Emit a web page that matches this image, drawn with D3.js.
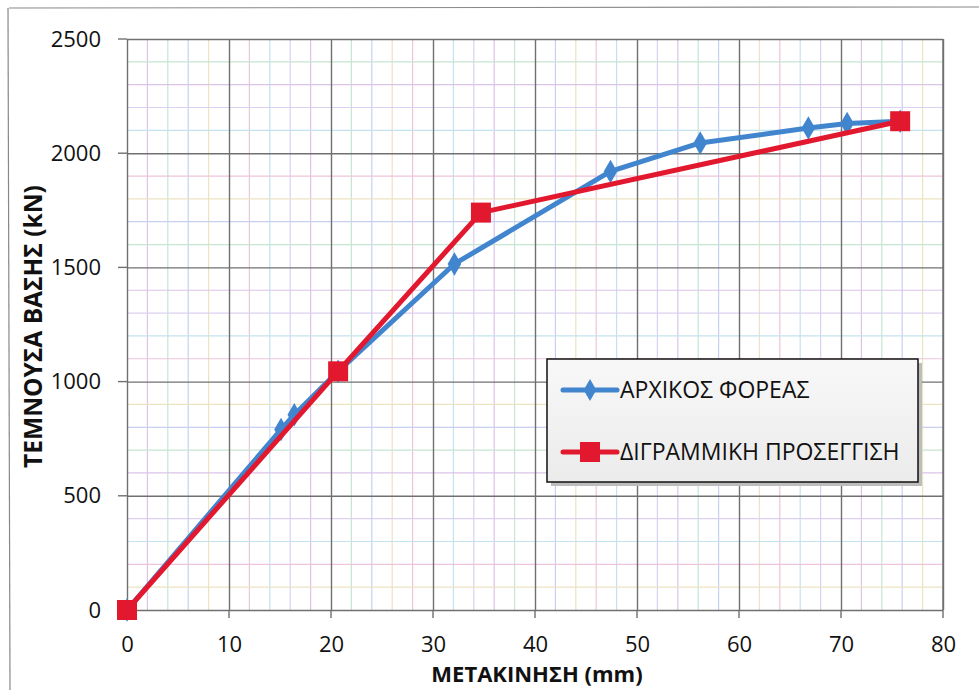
<!DOCTYPE html>
<html lang="el">
<head>
<meta charset="UTF-8">
<title>Τέμνουσα βάσης - Μετακίνηση</title>
<script src="https://d3js.org/d3.v7.min.js"></script>
<style>
  body { margin: 0; background: #fff; }
  svg text { font-family: "Open Sans", Lato, sans-serif; fill: #111; }
  .tick-label { font-size: 22px; }
  .axis-title { font-size: 22px; font-weight: bold; }
  .y-title { font-size: 24.5px; }
  .legend-label { font-size: 23px; }
</style>
</head>
<body>
<svg id="chart" width="979" height="690"></svg>
<script>
// data
const xTicks = [0, 10, 20, 30, 40, 50, 60, 70, 80];
const yTicks = [0, 500, 1000, 1500, 2000, 2500];
const seriesNames = ["ΑΡΧΙΚΟΣ ΦΟΡΕΑΣ", "ΔΙΓΡΑΜΜΙΚΗ ΠΡΟΣΕΓΓΙΣΗ"];
const originalDisp = [0, 15.1, 16.4, 20.7, 32.1, 47.4, 56.2, 66.8, 70.6, 75.8];
const originalShear = [0, 790, 855, 1045, 1515, 1920, 2045, 2110, 2130, 2140];
const bilinearDisp = [0, 20.7, 34.7, 75.8];
const bilinearShear = [0, 1045, 1740, 2140];

const blue = "#4285cf", red = "#e2182f";
const minorColors = ["#dcc3e8", "#c6e6d2", "#c8d0f2", "#ece3c2", "#eec4da", "#c4e2ee", "#dbd0f2"];

const plot = {left: 127, right: 943, top: 39, bottom: 610};
const svg = d3.select("#chart");

const x = d3.scaleLinear().domain([0, 80]).range([plot.left, plot.right]);
const y = d3.scaleLinear().domain([0, 2500]).range([plot.bottom, plot.top]);

// outer frame (scan border)
svg.append("line").attr("x1", 9).attr("y1", 8).attr("x2", 979).attr("y2", 7)
  .attr("stroke", "#888").attr("stroke-width", 1.2);
svg.append("line").attr("x1", 8).attr("y1", 8).attr("x2", 10).attr("y2", 690)
  .attr("stroke", "#888").attr("stroke-width", 1.2);

// minor grid
const grid = svg.append("g");
const minorX = d3.range(0, 80.01, 2).filter(v => v % 10 !== 0);
const minorY = d3.range(0, 2500.1, 100).filter(v => v % 500 !== 0);
grid.selectAll(".mx").data(minorX).join("line")
  .attr("x1", d => x(d)).attr("x2", d => x(d))
  .attr("y1", plot.top).attr("y2", plot.bottom)
  .attr("stroke", (d, i) => minorColors[i % minorColors.length]).attr("stroke-width", 1.2);
grid.selectAll(".my").data(minorY).join("line")
  .attr("y1", d => y(d)).attr("y2", d => y(d))
  .attr("x1", plot.left).attr("x2", plot.right)
  .attr("stroke", (d, i) => minorColors[(i + 3) % minorColors.length]).attr("stroke-width", 1.2);

// major grid through the axes
const xAxis = svg.append("g").attr("transform", `translate(0,${plot.bottom})`)
  .call(d3.axisBottom(x).tickValues(xTicks).tickFormat(d3.format("d"))
    .tickSize(-(plot.bottom - plot.top)).tickSizeOuter(0).tickPadding(26));
const yAxis = svg.append("g").attr("transform", `translate(${plot.left},0)`)
  .call(d3.axisLeft(y).tickValues(yTicks).tickFormat(d3.format("d"))
    .tickSize(-(plot.right - plot.left)).tickSizeOuter(0).tickPadding(26));
[xAxis, yAxis].forEach(g => {
  g.select(".domain").remove();
  g.selectAll(".tick line").attr("stroke", "#707070").attr("stroke-width", 1.4);
  g.selectAll(".tick text").attr("class", "tick-label").attr("fill", "#111");
});
// tick stubs outside the plot
svg.append("g").selectAll("line").data(xTicks).join("line")
  .attr("x1", d => x(d)).attr("x2", d => x(d))
  .attr("y1", plot.bottom).attr("y2", plot.bottom + 8)
  .attr("stroke", "#707070").attr("stroke-width", 1.4);
svg.append("g").selectAll("line").data(yTicks).join("line")
  .attr("x1", plot.left - 9).attr("x2", plot.left)
  .attr("y1", d => y(d)).attr("y2", d => y(d))
  .attr("stroke", "#707070").attr("stroke-width", 1.4);
// right border of plot
svg.append("line").attr("x1", plot.right).attr("x2", plot.right)
  .attr("y1", plot.top).attr("y2", plot.bottom).attr("stroke", "#707070").attr("stroke-width", 1.4);

// axis titles
svg.append("text").attr("class", "axis-title")
  .attr("x", (plot.left + plot.right) / 2 + 2).attr("y", 682)
  .attr("text-anchor", "middle").text("ΜΕΤΑΚΙΝΗΣΗ (mm)");
svg.append("text").attr("class", "axis-title y-title")
  .attr("transform", `translate(42,${(plot.top + plot.bottom) / 2 + 2}) rotate(-90)`)
  .attr("text-anchor", "middle").text("ΤΕΜΝΟΥΣΑ ΒΑΣΗΣ (kN)");

// series
const original = originalDisp.map((d, i) => [d, originalShear[i]]);
const bilinear = bilinearDisp.map((d, i) => [d, bilinearShear[i]]);
const line = d3.line().x(d => x(d[0])).y(d => y(d[1]));
const diamond = d3.symbol().type(d3.symbolDiamond).size(160);

svg.append("path").datum(original).attr("d", line)
  .attr("fill", "none").attr("stroke", blue).attr("stroke-width", 5).attr("stroke-linejoin", "round");
svg.append("g").selectAll("path").data(original).join("path")
  .attr("d", diamond).attr("transform", d => `translate(${x(d[0])},${y(d[1])})`)
  .attr("fill", blue);

svg.append("path").datum(bilinear).attr("d", line)
  .attr("fill", "none").attr("stroke", red).attr("stroke-width", 5).attr("stroke-linejoin", "round");
svg.append("g").selectAll("rect").data(bilinear).join("rect")
  .attr("x", d => x(d[0]) - 10).attr("y", d => y(d[1]) - 10)
  .attr("width", 20).attr("height", 20).attr("fill", red);

// legend
const defs = svg.append("defs");
const grad = defs.append("linearGradient").attr("id", "lg").attr("x1", 0).attr("y1", 0).attr("x2", 0).attr("y2", 1);
grad.append("stop").attr("offset", "0%").attr("stop-color", "#f8f8f8");
grad.append("stop").attr("offset", "100%").attr("stop-color", "#ebebeb");

const legend = svg.append("g").attr("transform", "translate(547,359)");
legend.append("rect").attr("x", 4).attr("y", 4).attr("width", 371).attr("height", 123).attr("fill", "#bdbdbd");
legend.append("rect").attr("width", 371).attr("height", 123)
  .attr("fill", "url(#lg)").attr("stroke", "#111").attr("stroke-width", 1.5);

const items = legend.selectAll(".item").data(seriesNames).join("g")
  .attr("transform", (d, i) => `translate(0,${31 + i * 62})`);
items.append("line").attr("x1", 16).attr("x2", 70).attr("y1", 0).attr("y2", 0)
  .attr("stroke", (d, i) => i === 0 ? blue : red).attr("stroke-width", 5).attr("stroke-linecap", "round");
items.filter((d, i) => i === 0).append("path")
  .attr("d", d3.symbol().type(d3.symbolDiamond).size(140)).attr("transform", "translate(43,0)").attr("fill", blue);
items.filter((d, i) => i === 1).append("rect")
  .attr("x", 33).attr("y", -10).attr("width", 20).attr("height", 20).attr("fill", red);
items.append("text").attr("class", "legend-label")
  .attr("x", 73).attr("y", 8).text(d => d);
</script>
</body>
</html>
